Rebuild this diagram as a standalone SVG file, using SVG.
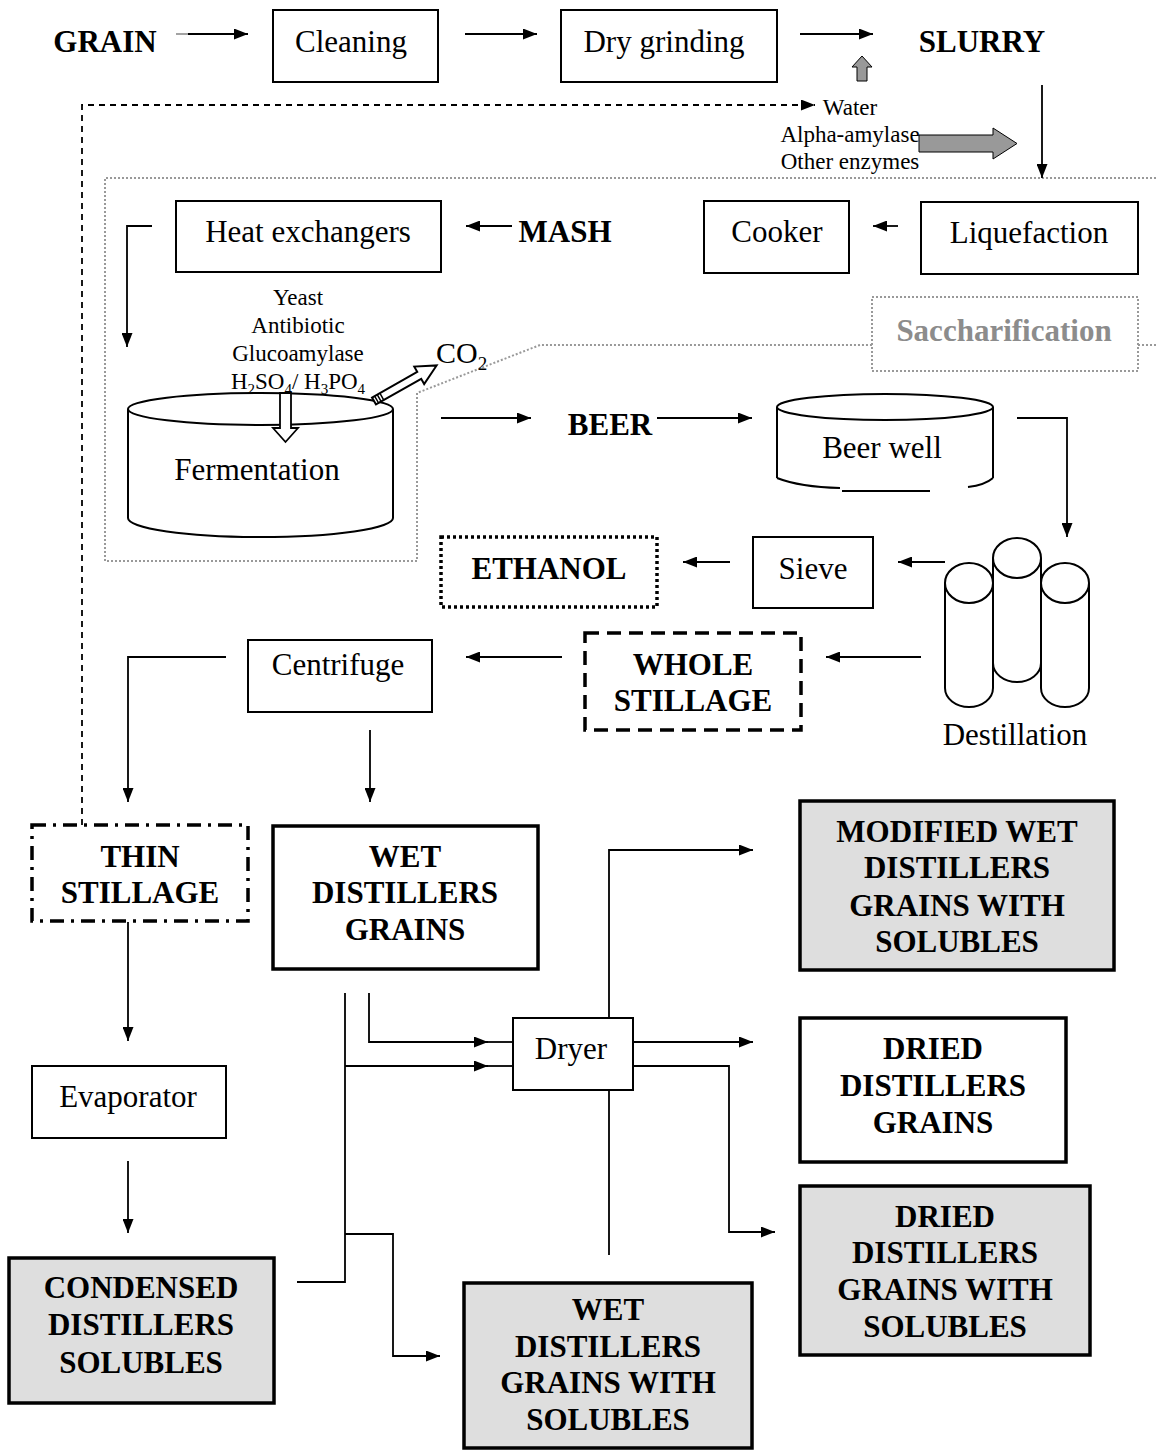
<svg xmlns="http://www.w3.org/2000/svg" width="1156" height="1450" viewBox="0 0 1156 1450">
<defs>
<marker id="ah" viewBox="0 0 14 11" refX="14" refY="5.5" markerWidth="14" markerHeight="11" markerUnits="userSpaceOnUse" orient="auto"><path d="M0,0 L14,5.5 L0,11 z" fill="#000"/></marker>
<style>
.t{font-family:"Liberation Serif","Times New Roman",serif;font-size:31px;fill:#000;text-anchor:middle}
.b{font-weight:bold}
.s{font-family:"Liberation Serif","Times New Roman",serif;font-size:23px;fill:#000;text-anchor:middle}
.box{fill:#fff;stroke:#000;stroke-width:2}
.thick{fill:#fff;stroke:#000;stroke-width:3.5}
.gray{fill:#dedede;stroke:#000;stroke-width:3.5}
.c{fill:none;stroke:#000;stroke-width:1.8}
.a{fill:none;stroke:#000;stroke-width:1.8;marker-end:url(#ah)}
.shape{fill:#fff;stroke:#000;stroke-width:2}
</style>
</defs>
<rect width="1156" height="1450" fill="#fff"/>

<g id="saccharification-region">
<path d="M1156,178 H105 V561 H417 V393 L540,345 H872 M1138,345 H1156" fill="none" stroke="#999" stroke-width="2" stroke-dasharray="2,2"/>
<rect x="872" y="297" width="266" height="74" fill="none" stroke="#999" stroke-width="2" stroke-dasharray="2,2"/>
<text class="t b" x="1004" y="341" style="fill:#8c8c8c">Saccharification</text>
</g>

<g id="connectors">
<line x1="176" y1="34" x2="188" y2="34" stroke="#999" stroke-width="1.8"/>
<path class="a" d="M188,34 H248"/>
<path class="a" d="M465,34 H537"/>
<path class="a" d="M800,34 H873"/>
<path class="a" d="M82,825 V105 H815" stroke-dasharray="6,5"/>
<path class="a" d="M1042,85 V178"/>
<path class="a" d="M898,226 H873"/>
<path class="a" d="M512,226 H466"/>
<path class="a" d="M152,226 H127 V347"/>
<path class="a" d="M441,418 H531"/>
<path class="a" d="M657,418 H752"/>
<path class="a" d="M1017,418 H1067 V537"/>
<path class="a" d="M945,562 H898"/>
<path class="a" d="M730,562 H683"/>
<path class="a" d="M921,657 H826"/>
<path class="a" d="M562,657 H466"/>
<path class="a" d="M226,657 H128 V802"/>
<path class="a" d="M370,730 V802"/>
<path class="a" d="M128,922 V1041"/>
<path class="a" d="M128,1161 V1233"/>
<path class="c" d="M297,1282 H345 V993"/>
<path class="a" d="M345,1066 H488"/>
<path class="c" d="M488,1066 H513"/>
<path class="a" d="M369,993 V1042 H488"/>
<path class="c" d="M488,1042 H513"/>
<path class="a" d="M345,1234 H393 V1356 H440"/>
<path class="a" d="M609,1018 V850 H753"/>
<path class="a" d="M633,1042 H753"/>
<path class="a" d="M633,1066 H729 V1232 H775"/>
<path class="c" d="M609,1090 V1255"/>
<polygon points="862,56 872,67 867,67 867,81 857,81 857,67 852,67" fill="#999" stroke="#000" stroke-width="1"/>
<polygon points="919,135 993,135 993,128 1017,143.5 993,159 993,152 919,152" fill="#999" stroke="#000" stroke-width="1"/>
</g>

<g id="grain"><text class="t b" x="105" y="52">GRAIN</text></g>
<g id="cleaning"><rect class="box" x="273" y="10" width="165" height="72"/><text class="t" x="351" y="52">Cleaning</text></g>
<g id="dry-grinding"><rect class="box" x="561" y="10" width="216" height="72"/><text class="t" x="664" y="52">Dry grinding</text></g>
<g id="slurry"><text class="t b" x="982" y="52">SLURRY</text></g>
<g id="water-enzymes">
<text class="s" x="850" y="115">Water</text>
<text class="s" x="850" y="142">Alpha-amylase</text>
<text class="s" x="850" y="169">Other enzymes</text>
</g>

<g id="heat-exchangers"><rect class="box" x="176" y="201" width="265" height="71"/><text class="t" x="308" y="242">Heat exchangers</text></g>
<g id="mash"><text class="t b" x="565" y="242">MASH</text></g>
<g id="cooker"><rect class="box" x="704" y="201" width="145" height="72"/><text class="t" x="777" y="242">Cooker</text></g>
<g id="liquefaction"><rect class="box" x="921" y="202" width="217" height="72"/><text class="t" x="1029" y="243">Liquefaction</text></g>

<g id="additives">
<text class="s" x="298" y="305">Yeast</text>
<text class="s" x="298" y="333">Antibiotic</text>
<text class="s" x="298" y="361">Glucoamylase</text>
<text class="s" x="298" y="389">H<tspan font-size="15" dy="5">2</tspan><tspan dy="-5">SO</tspan><tspan font-size="15" dy="5">4</tspan><tspan dy="-5">/ H</tspan><tspan font-size="15" dy="5">3</tspan><tspan dy="-5">PO</tspan><tspan font-size="15" dy="5">4</tspan></text>
</g>

<g id="fermentation">
<path class="shape" d="M128,409 V518 A132.5,19 0 0 0 393,518 V409"/>
<ellipse class="shape" cx="260.5" cy="409" rx="132.5" ry="16"/>
<path d="M280,393 V428 H273 L285.5,442 L298,428 H291 V393 Z" fill="#fff" stroke="#000" stroke-width="1.8"/>
<text class="t" x="257" y="480">Fermentation</text>
</g>

<g id="co2">
<g transform="translate(374,401) rotate(-29.6)">
<polygon points="0,-4 52,-4 52,-10 72,0 52,10 52,4 0,4" fill="#fff" stroke="#000" stroke-width="2"/>
<path d="M3,-4 V4 M6,-4 V4 M9,-4 V4" stroke="#000" stroke-width="1.5"/>
</g>
<text font-family="Liberation Serif, Times New Roman, serif" font-size="30" x="436" y="363">CO<tspan font-size="19" dy="7">2</tspan></text>
</g>

<g id="beer"><text class="t b" x="610" y="435">BEER</text></g>
<g id="beer-well">
<path class="shape" d="M777,407 V478 M993,407 V478" fill="none"/>
<path d="M777,478 Q800,487 840,488 M842,491 H930 M968,487 Q985,485 993,478" fill="none" stroke="#000" stroke-width="2"/>
<ellipse class="shape" cx="885" cy="407" rx="108" ry="13"/>
<text class="t" x="882" y="458">Beer well</text>
</g>

<g id="destillation">
<path class="shape" d="M945,583 V688 A24,19 0 0 0 993,688 V583"/>
<ellipse class="shape" cx="969" cy="583" rx="24" ry="20"/>
<path class="shape" d="M1041,583 V688 A24,19 0 0 0 1089,688 V583"/>
<ellipse class="shape" cx="1065" cy="583" rx="24" ry="20"/>
<path class="shape" d="M993,558 V663 A24,19 0 0 0 1041,663 V558"/>
<ellipse class="shape" cx="1017" cy="558" rx="24" ry="20"/>
<text class="t" x="1015" y="745">Destillation</text>
</g>

<g id="sieve"><rect class="box" x="753" y="537" width="120" height="71"/><text class="t" x="813" y="579">Sieve</text></g>
<g id="ethanol"><rect x="441" y="537" width="216" height="70" fill="#fff" stroke="#000" stroke-width="3.5" stroke-dasharray="3,3"/><text class="t b" x="549" y="579">ETHANOL</text></g>
<g id="whole-stillage"><rect x="585" y="633" width="216" height="97" fill="#fff" stroke="#000" stroke-width="3.5" stroke-dasharray="14,8"/><text class="t b" x="693" y="675">WHOLE</text><text class="t b" x="693" y="711">STILLAGE</text></g>
<g id="centrifuge"><rect class="box" x="248" y="640" width="184" height="72"/><text class="t" x="338" y="675">Centrifuge</text></g>

<g id="thin-stillage"><rect x="32" y="825" width="216" height="96" fill="#fff" stroke="#000" stroke-width="3.5" stroke-dasharray="14,7,3,7"/><text class="t b" x="140" y="867">THIN</text><text class="t b" x="140" y="903">STILLAGE</text></g>
<g id="wdg"><rect class="thick" x="273" y="826" width="265" height="143"/><text class="t b" x="405" y="867">WET</text><text class="t b" x="405" y="903">DISTILLERS</text><text class="t b" x="405" y="940">GRAINS</text></g>
<g id="evaporator"><rect class="box" x="32" y="1066" width="194" height="72"/><text class="t" x="128" y="1107">Evaporator</text></g>
<g id="cds"><rect class="gray" x="9" y="1258" width="265" height="145"/><text class="t b" x="141" y="1298">CONDENSED</text><text class="t b" x="141" y="1335">DISTILLERS</text><text class="t b" x="141" y="1373">SOLUBLES</text></g>
<g id="dryer"><rect class="box" x="513" y="1018" width="120" height="72"/><text class="t" x="571" y="1059">Dryer</text></g>
<g id="mwdgs"><rect class="gray" x="800" y="801" width="314" height="169"/><text class="t b" x="957" y="842">MODIFIED WET</text><text class="t b" x="957" y="878">DISTILLERS</text><text class="t b" x="957" y="916">GRAINS WITH</text><text class="t b" x="957" y="952">SOLUBLES</text></g>
<g id="ddg"><rect class="thick" x="800" y="1018" width="266" height="144"/><text class="t b" x="933" y="1059">DRIED</text><text class="t b" x="933" y="1096">DISTILLERS</text><text class="t b" x="933" y="1133">GRAINS</text></g>
<g id="ddgs"><rect class="gray" x="800" y="1186" width="290" height="169"/><text class="t b" x="945" y="1227">DRIED</text><text class="t b" x="945" y="1263">DISTILLERS</text><text class="t b" x="945" y="1300">GRAINS WITH</text><text class="t b" x="945" y="1337">SOLUBLES</text></g>
<g id="wdgs"><rect class="gray" x="464" y="1283" width="288" height="165"/><text class="t b" x="608" y="1320">WET</text><text class="t b" x="608" y="1357">DISTILLERS</text><text class="t b" x="608" y="1393">GRAINS WITH</text><text class="t b" x="608" y="1430">SOLUBLES</text></g>
</svg>
